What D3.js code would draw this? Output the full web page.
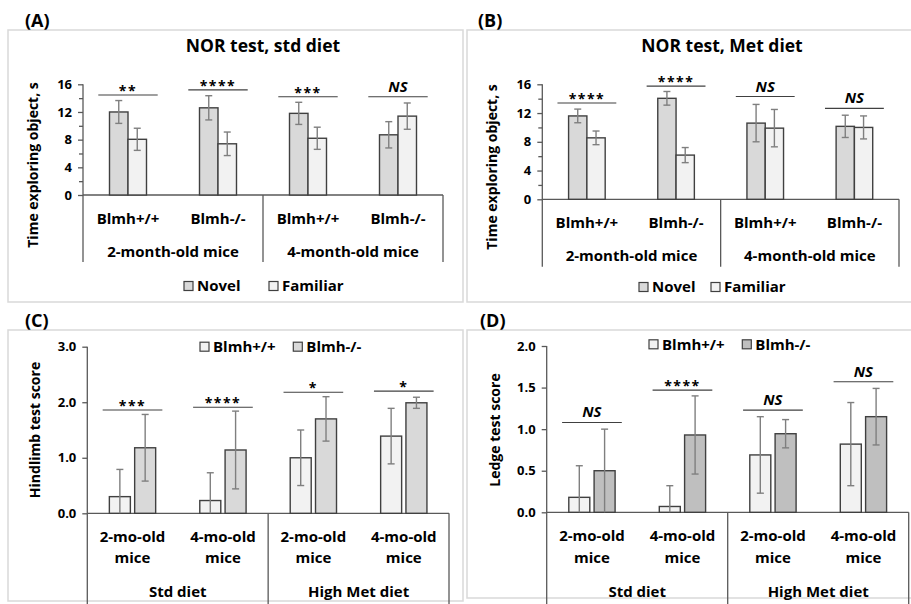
<!DOCTYPE html>
<html>
<head>
<meta charset="utf-8">
<script src="https://cdn.jsdelivr.net/npm/d3@7"></script>
<style>
body { margin: 0; background: #fff; }
svg { display: block; font-family: "Open Sans", sans-serif; font-weight: bold; }
</style>
</head>
<body>
<svg id="chart" width="911" height="604"></svg>
<script>
// categories
var norAges = ["2-month-old mice", "4-month-old mice"];
var genotypes = ["Blmh+/+", "Blmh-/-"];
var norSeries = ["Novel", "Familiar"];
var diets = ["Std diet", "High Met diet"];
var ageLines = [["2-mo-old", "mice"], ["4-mo-old", "mice"], ["2-mo-old", "mice"], ["4-mo-old", "mice"]];

// (A) NOR test, std diet
var stdNovel = [12.0, 12.6, 11.8, 8.7];
var stdNovelErr = [1.65, 1.75, 1.6, 1.9];
var stdFamiliar = [8.05, 7.4, 8.2, 11.4];
var stdFamiliarErr = [1.6, 1.7, 1.6, 1.9];
var stdSig = ["**", "****", "***", "NS"];
var stdSigAt = [14.45, 15.2, 14.2, 14.2];

// (B) NOR test, Met diet
var metNovel = [11.6, 14.05, 10.6, 10.15];
var metNovelErr = [0.95, 0.95, 2.6, 1.55];
var metFamiliar = [8.55, 6.15, 9.9, 10.0];
var metFamiliarErr = [0.95, 1.05, 2.6, 1.6];
var metSig = ["****", "****", "NS", "NS"];
var metSigAt = [13.4, 15.75, 14.3, 12.65];

// (C) Hindlimb test
var hindWT = [0.30, 0.23, 1.0, 1.39];
var hindWTErr = [0.49, 0.5, 0.5, 0.5];
var hindKO = [1.18, 1.14, 1.70, 1.99];
var hindKOErr = [0.6, 0.7, 0.4, 0.1];
var hindSig = ["***", "****", "*", "*"];
var hindSigAt = [1.86, 1.91, 2.18, 2.2];

// (D) Ledge test
var ledgeWT = [0.18, 0.07, 0.69, 0.82];
var ledgeWTErr = [0.38, 0.25, 0.46, 0.5];
var ledgeKO = [0.50, 0.93, 0.945, 1.15];
var ledgeKOErr = [0.5, 0.47, 0.17, 0.34];
var ledgeSig = ["NS", "****", "NS", "NS"];
var ledgeSigAt = [1.08, 1.47, 1.23, 1.57];

// tick values
var norTicks = [0, 4, 8, 12, 16];
var norMinor = [2, 6, 10, 14];
var hindTicks = [0, 1, 2, 3];
var ledgeTicks = [0, 0.5, 1, 1.5, 2];

var svg = d3.select('#chart');

function drawPanel(p) {
  svg.append('rect')
    .attr('x', p.box[0]).attr('y', p.box[1])
    .attr('width', p.box[2] - p.box[0]).attr('height', p.box[3] - p.box[1])
    .attr('fill', 'none').attr('stroke', '#d9d9d9').attr('stroke-width', 1.5);

  svg.append('text').attr('x', p.letter[0]).attr('y', p.letter[1])
    .style('font-size', '18px').attr('fill', '#000').text(p.name);

  if (p.title) {
    svg.append('text').attr('x', p.title[0]).attr('y', p.title[1])
      .attr('text-anchor', 'middle').style('font-size', '17.5px').attr('fill', '#000')
      .text(p.title[2]);
  }

  var x = d3.scaleBand().domain(d3.range(4)).range([p.x0, p.x1]);
  var y = d3.scaleLinear().domain([0, p.yMax]).range([p.y0, p.yTop]);
  var bw = x.bandwidth();
  var inner = d3.scaleBand().domain(p.series)
    .range([-(p.barW + p.gap / 2), p.barW + p.gap / 2])
    .paddingInner(p.gap / (p.barW + p.gap));
  var cx = i => x(i) + bw / 2;

  // y axis
  var yAxis = d3.axisLeft(y).tickValues(p.ticks).tickFormat(p.fmt).tickSize(5).tickSizeOuter(0);
  var ga = svg.append('g').attr('transform', 'translate(' + p.x0 + ',0)').call(yAxis);
  ga.select('.domain').remove();
  ga.selectAll('line').attr('stroke', '#595959').attr('stroke-width', 1.3);
  ga.selectAll('text').attr('x', -11).style('font-size', '13px').attr('fill', '#000')
    .style('font-family', '"Open Sans", sans-serif').style('font-weight', 'bold');
  if (p.minor) {
    var gm = svg.append('g').attr('transform', 'translate(' + p.x0 + ',0)')
      .call(d3.axisLeft(y).tickValues(p.minor).tickFormat('').tickSize(4));
    gm.select('.domain').remove();
    gm.selectAll('line').attr('stroke', '#595959').attr('stroke-width', 1.3);
  }

  // axis lines and category dividers
  var lines = svg.append('g').attr('stroke', '#595959').attr('stroke-width', 1.3);
  lines.append('line').attr('x1', p.x0).attr('x2', p.x0).attr('y1', y(p.yMax)).attr('y2', p.bottom);
  [x(2), p.x1].forEach(function (v) {
    lines.append('line').attr('x1', v).attr('x2', v).attr('y1', y(0)).attr('y2', p.bottom);
  });
  lines.append('line').attr('x1', p.x0).attr('x2', p.x1).attr('y1', y(0)).attr('y2', y(0));

  // bars
  p.series.forEach(function (s, k) {
    var vals = p.values[k], errs = p.errors[k];
    svg.append('g').selectAll('rect').data(vals).enter().append('rect')
      .attr('x', (d, i) => cx(i) + inner(s))
      .attr('y', d => y(d))
      .attr('width', inner.bandwidth())
      .attr('height', d => y(0) - y(d))
      .attr('fill', p.colors[k]).attr('stroke', '#404040').attr('stroke-width', 1.4);

    var eg = svg.append('g').attr('stroke', '#7f7f7f').attr('stroke-width', 1.4);
    vals.forEach(function (d, i) {
      var ex = cx(i) + inner(s) + inner.bandwidth() / 2;
      var hi = d + errs[i], lo = Math.max(0, d - errs[i]);
      eg.append('line').attr('x1', ex).attr('x2', ex).attr('y1', y(hi)).attr('y2', y(lo));
      eg.append('line').attr('x1', ex - 3.5).attr('x2', ex + 3.5).attr('y1', y(hi)).attr('y2', y(hi));
      if (d - errs[i] > 0) {
        eg.append('line').attr('x1', ex - 3.5).attr('x2', ex + 3.5).attr('y1', y(lo)).attr('y2', y(lo));
      }
    });
  });

  // significance
  p.sig.forEach(function (t, i) {
    var sy = y(p.sigAt[i]);
    svg.append('line').attr('x1', cx(i) - bw * 0.33).attr('x2', cx(i) + bw * 0.33)
      .attr('y1', sy).attr('y2', sy).attr('stroke', '#404040').attr('stroke-width', 1.2);
    var isNS = t === 'NS';
    svg.append('text').attr('x', cx(i)).attr('y', isNS ? sy - 5 : sy + 1)
      .attr('text-anchor', 'middle')
      .style('font-size', isNS ? '15px' : '14px')
      .style('font-style', isNS ? 'italic' : 'normal')
      .style('letter-spacing', isNS ? '0px' : '1.5px')
      .attr('fill', '#000').text(t);
  });

  // category labels
  p.sub.forEach(function (lab, i) {
    var lines2 = Array.isArray(lab) ? lab : [lab];
    lines2.forEach(function (l, j) {
      svg.append('text').attr('x', cx(i)).attr('y', p.subY[j])
        .attr('text-anchor', 'middle').style('font-size', '15px').attr('fill', '#000').text(l);
    });
  });
  p.groups.forEach(function (g, j) {
    var gx = j === 0 ? (x(0) + x(2)) / 2 : (x(2) + p.x1) / 2;
    svg.append('text').attr('x', gx).attr('y', p.groupY)
      .attr('text-anchor', 'middle').style('font-size', '15px').attr('fill', '#000').text(g);
  });

  // y label
  svg.append('text')
    .attr('transform', 'translate(' + p.yLabel[0] + ',' + p.yLabel[1] + ') rotate(-90)')
    .attr('text-anchor', 'middle').attr('dy', '0.35em')
    .style('font-size', '14px').attr('fill', '#000').text(p.yTitle);

  // legend
  p.series.forEach(function (s, k) {
    var lx = p.legend[k], ly = p.legendY;
    svg.append('rect').attr('x', lx).attr('y', ly - 4.5).attr('width', 9).attr('height', 9)
      .attr('fill', p.colors[k]).attr('stroke', '#404040').attr('stroke-width', 1.2);
    svg.append('text').attr('x', lx + 13).attr('y', ly).attr('dy', '0.36em')
      .style('font-size', '15px').attr('fill', '#000').text(s);
  });
}

var norSub = [genotypes[0], genotypes[1], genotypes[0], genotypes[1]];

drawPanel({
  name: '(A)', letter: [25, 27], box: [8, 30, 463, 302],
  title: [263, 52, 'NOR test, std diet'],
  x0: 83, x1: 443, y0: 195, yTop: 84.3, yMax: 16, bottom: 262,
  ticks: norTicks, minor: norMinor, fmt: d3.format('d'),
  series: norSeries, values: [stdNovel, stdFamiliar], errors: [stdNovelErr, stdFamiliarErr],
  colors: ['#d9d9d9', '#f2f2f2'], barW: 18.5, gap: 0,
  sig: stdSig, sigAt: stdSigAt,
  sub: norSub, subY: [224], groups: norAges, groupY: 257,
  yTitle: 'Time exploring object, s', yLabel: [33, 165],
  legend: [184, 269], legendY: 286
});

drawPanel({
  name: '(B)', letter: [478, 27], box: [467, 30, 918, 302],
  title: [722, 52, 'NOR test, Met diet'],
  x0: 542.3, x1: 899, y0: 199.3, yTop: 84.3, yMax: 16, bottom: 266.7,
  ticks: norTicks, minor: norMinor, fmt: d3.format('d'),
  series: norSeries, values: [metNovel, metFamiliar], errors: [metNovelErr, metFamiliarErr],
  colors: ['#d9d9d9', '#f2f2f2'], barW: 18.3, gap: 0,
  sig: metSig, sigAt: metSigAt,
  sub: norSub, subY: [228], groups: norAges, groupY: 261,
  yTitle: 'Time exploring object, s', yLabel: [492, 167],
  legend: [639, 711], legendY: 287
});

drawPanel({
  name: '(C)', letter: [25, 327], box: [8, 330, 463, 601],
  x0: 87.3, x1: 449, y0: 513.3, yTop: 346.7, yMax: 3, bottom: 604,
  ticks: hindTicks, fmt: d3.format('.1f'),
  series: genotypes, values: [hindWT, hindKO], errors: [hindWTErr, hindKOErr],
  colors: ['#f2f2f2', '#d9d9d9'], barW: 21, gap: 4.3,
  sig: hindSig, sigAt: hindSigAt,
  sub: ageLines, subY: [541.7, 563.3], groups: diets, groupY: 596.7,
  yTitle: 'Hindlimb test score', yLabel: [35, 430],
  legend: [200, 293.3], legendY: 346.7
});

drawPanel({
  name: '(D)', letter: [480, 327], box: [467, 330, 918, 598],
  x0: 546.7, x1: 908.7, y0: 512.3, yTop: 346, yMax: 2, bottom: 604,
  ticks: ledgeTicks, fmt: d3.format('.1f'),
  series: genotypes, values: [ledgeWT, ledgeKO], errors: [ledgeWTErr, ledgeKOErr],
  colors: ['#f2f2f2', '#bfbfbf'], barW: 21, gap: 4.3,
  sig: ledgeSig, sigAt: ledgeSigAt,
  sub: ageLines, subY: [541, 563], groups: diets, groupY: 596.7,
  yTitle: 'Ledge test score', yLabel: [495, 430],
  legend: [649, 742.3], legendY: 344.3
});
</script>
</body>
</html>
